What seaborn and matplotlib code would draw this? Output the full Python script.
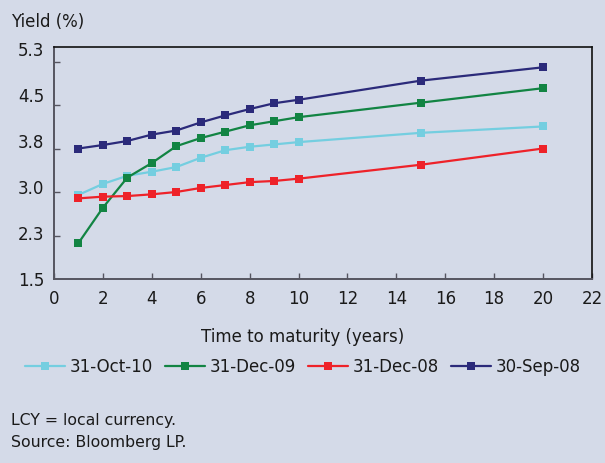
import matplotlib
matplotlib.use("Agg")
import matplotlib.pyplot as plt
import seaborn as sns
import pandas as pd

# ---- data ----
maturity = [1, 2, 3, 4, 5, 6, 7, 8, 9, 10, 15, 20]
oct10 = [2.95, 3.14, 3.28, 3.35, 3.43, 3.59, 3.72, 3.78, 3.82, 3.86, 4.02, 4.13]
dec09 = [2.12, 2.73, 3.25, 3.50, 3.79, 3.93, 4.04, 4.15, 4.22, 4.29, 4.54, 4.79]
dec08 = [2.89, 2.92, 2.93, 2.96, 3.00, 3.07, 3.12, 3.17, 3.19, 3.23, 3.47, 3.75]
sep08 = [3.75, 3.81, 3.88, 3.99, 4.06, 4.20, 4.32, 4.43, 4.53, 4.59, 4.92, 5.15]
series_names = ["31-Oct-10", "31-Dec-09", "31-Dec-08", "30-Sep-08"]
series_values = [oct10, dec09, dec08, sep08]

x_ticks = [0, 2, 4, 6, 8, 10, 12, 14, 16, 18, 20, 22]
y_tick_marks = [1.5, 2.25, 3.0, 3.75, 4.5, 5.25]
y_label_pos = [1.5, 2.29, 3.09, 3.88, 4.68, 5.47]
y_tick_labels = ["1.5", "2.3", "3.0", "3.8", "4.5", "5.3"]

colors = ["#74CEE0", "#128443", "#EE2229", "#2B2A7A"]
bg = "#D4DAE8"

rows = []
for name, vals in zip(series_names, series_values):
    for m, v in zip(maturity, vals):
        rows.append({"maturity": m, "yield": v, "date": name})
df = pd.DataFrame(rows)

sns.set_style("ticks")
plt.rcParams["font.family"] = ["DejaVu Sans"]
plt.rcParams["text.color"] = "#1a1a1a"

fig = plt.figure(figsize=(6.05, 4.63), dpi=100, facecolor=bg)
ax = fig.add_axes([54 / 605, 1 - 279 / 463, (592 - 54) / 605, (279 - 47) / 463])
ax.set_facecolor(bg)

sns.lineplot(data=df, x="maturity", y="yield", hue="date", hue_order=series_names,
             style="date", style_order=series_names, markers=["s"] * 4, dashes=False,
             palette=colors, linewidth=1.6, markersize=6.2, markeredgewidth=0, ax=ax)

handles, labels = ax.get_legend_handles_labels()
ax.get_legend().remove()

ax.set_xlim(0, 22)
ax.set_ylim(1.5, 5.5)
ax.set_xticks(x_ticks)
ax.set_xticklabels([str(t) for t in x_ticks])
ax.set_yticks(y_label_pos)
ax.set_yticklabels(y_tick_labels)
ax.set_yticks(y_tick_marks, minor=True)
ax.tick_params(axis="y", which="major", length=0, pad=7, labelsize=12, labelcolor="#1a1a1a")
ax.tick_params(axis="y", which="minor", length=4.3, width=1, direction="in", color="#555560")
ax.tick_params(axis="x", length=4.3, width=1, direction="in", pad=8, labelsize=12,
               color="#555560", labelcolor="#1a1a1a")
ax.set_xlabel("")
ax.set_ylabel("")

for side in ["top", "right"]:
    ax.spines[side].set_visible(True)
    ax.spines[side].set_color("#111111")
    ax.spines[side].set_linewidth(1.2)
for side in ["left", "bottom"]:
    ax.spines[side].set_color("#555560")
    ax.spines[side].set_linewidth(1.4)

fig.text(11 / 605, 1 - 22 / 463, "Yield (%)", fontsize=12, va="center", ha="left")
fig.text(303 / 605, 1 - 337 / 463, "Time to maturity (years)", fontsize=12, va="center", ha="center")

fig.legend(handles, labels, loc="center", bbox_to_anchor=(303 / 605, 1 - 367 / 463), ncol=4,
           frameon=False, fontsize=12, handlelength=2.4, handletextpad=0.3, columnspacing=0.7,
           borderaxespad=0, borderpad=0)

fig.text(11 / 605, 1 - 420 / 463, "LCY = local currency.", fontsize=11.3, va="center", ha="left")
fig.text(11 / 605, 1 - 442 / 463, "Source: Bloomberg LP.", fontsize=11.3, va="center", ha="left")

fig.savefig("out.png", dpi=100, facecolor=bg)
